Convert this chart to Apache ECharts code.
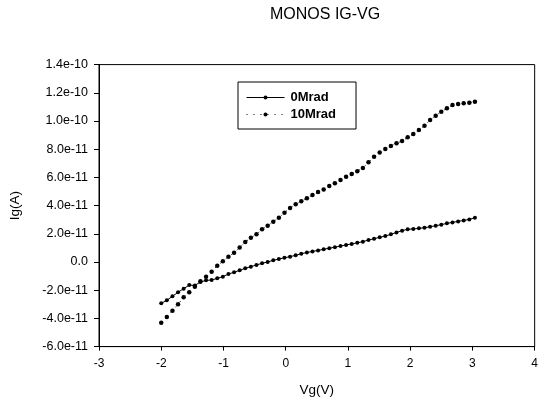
<!DOCTYPE html>
<html>
<head>
<meta charset="utf-8">
<script src="https://cdn.jsdelivr.net/npm/echarts@6/dist/echarts.min.js"></script>
<style>html,body{margin:0;padding:0;background:#fff;}#c{width:541px;height:403px;}</style>
</head>
<body>
<div id="c"></div>
<script>
// Gate voltage (V)
const vg = [-2.00,-1.91,-1.82,-1.73,-1.64,-1.55,-1.46,-1.37,-1.28,-1.19,-1.10,-1.01,-0.92,-0.83,-0.74,-0.65,-0.56,-0.47,-0.38,-0.29,-0.20,-0.11,-0.02,0.07,0.16,0.25,0.34,0.43,0.52,0.61,0.70,0.79,0.88,0.97,1.06,1.15,1.24,1.33,1.42,1.51,1.60,1.69,1.78,1.87,1.96,2.05,2.14,2.23,2.32,2.41,2.50,2.59,2.68,2.77,2.86,2.95,3.04];
// Ig in units of 1e-11 A
const ig0Mrad = [-2.93,-2.72,-2.43,-2.15,-1.89,-1.64,-1.66,-1.42,-1.30,-1.28,-1.16,-1.04,-0.85,-0.73,-0.59,-0.45,-0.33,-0.21,-0.09,0.00,0.12,0.21,0.30,0.38,0.47,0.59,0.67,0.75,0.82,0.90,0.98,1.05,1.13,1.21,1.28,1.36,1.44,1.56,1.65,1.75,1.84,1.96,2.10,2.22,2.32,2.34,2.39,2.43,2.50,2.57,2.65,2.74,2.81,2.88,2.95,3.02,3.14];
const ig10Mrad = [-4.30,-3.90,-3.45,-3.00,-2.50,-2.15,-1.75,-1.37,-1.04,-0.69,-0.26,0.05,0.38,0.66,1.02,1.42,1.72,1.96,2.32,2.57,2.86,3.14,3.50,3.83,4.09,4.30,4.52,4.75,4.96,5.15,5.39,5.58,5.82,6.05,6.24,6.43,6.67,7.07,7.47,7.76,8.01,8.23,8.42,8.58,8.84,9.08,9.36,9.67,10.07,10.38,10.66,10.90,11.13,11.21,11.26,11.30,11.37];
const unit = 1e-11;
const seriesNames = ['0Mrad','10Mrad'];
const titleText = 'MONOS IG-VG';

const font = 'Liberation Sans, Arial, sans-serif';
const chart = echarts.init(document.getElementById('c'), null, {renderer:'canvas'});
const pairs = arr => vg.map((x,i)=>[x, arr[i]]);
chart.setOption({
  animation:false,
  backgroundColor:'#fff',
  title:{text:titleText,left:265,top:2,textStyle:{fontFamily:font,fontSize:16,fontWeight:'normal',color:'#000'}},
  legend:{
    orient:'vertical',left:238,top:82,
    padding:[9,20,8,8],itemGap:4,itemWidth:38,itemHeight:5,
    borderColor:'#000',borderWidth:1,
    lineStyle:{width:1},
    textStyle:{fontFamily:font,fontSize:13,fontWeight:'bold',color:'#000',padding:[0,0,0,1]},
    data:seriesNames
  },
  grid:{left:94,right:3.5,top:64.6,bottom:56.4,show:true,borderColor:'#000',borderWidth:1,containLabel:false},
  xAxis:{
    type:'value',min:-3,max:4,interval:1,
    name:'Vg(V)',nameLocation:'middle',nameGap:37,
    nameTextStyle:{fontFamily:font,fontSize:13.5,color:'#000'},
    axisLine:{show:true,onZero:false,lineStyle:{color:'#000',width:1}},
    axisTick:{show:true,length:4,lineStyle:{color:'#000'}},
    axisLabel:{fontFamily:font,fontSize:12,color:'#000',margin:11},
    splitLine:{show:false}
  },
  yAxis:{
    type:'value',min:-6,max:14,interval:2,
    name:'Ig(A)',nameLocation:'middle',nameGap:77,
    nameTextStyle:{fontFamily:font,fontSize:13.5,color:'#000'},
    axisLine:{show:true,onZero:false,lineStyle:{color:'#000',width:1}},
    axisTick:{show:true,length:5,lineStyle:{color:'#000'}},
    axisLabel:{fontFamily:font,fontSize:12.5,color:'#000',margin:11,
      formatter:v=> Math.abs(v)<1e-9 ? '0.0' : (v*unit).toExponential(1)},
    splitLine:{show:false}
  },
  series:[
    {name:seriesNames[0],type:'line',data:pairs(ig0Mrad),symbol:'circle',symbolSize:4,
      itemStyle:{color:'#000'},lineStyle:{color:'#000',width:1}},
    {name:seriesNames[1],type:'line',data:pairs(ig10Mrad),symbol:'circle',symbolSize:4.5,
      itemStyle:{color:'#000'},lineStyle:{color:'#000',width:1,type:[1,6]}}
  ]
});
</script>
</body>
</html>
